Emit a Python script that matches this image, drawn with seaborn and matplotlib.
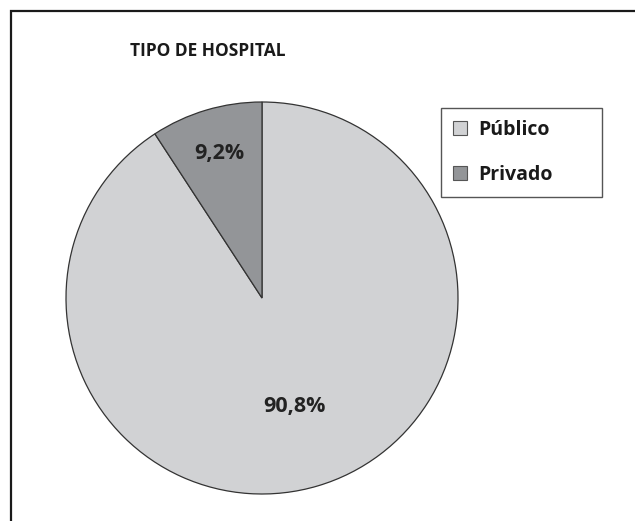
import numpy as np
import matplotlib
matplotlib.use("Agg")
import matplotlib.pyplot as plt
import seaborn as sns
from matplotlib.patches import Rectangle, Patch

# Datos: tipo de hospital (%)
categorias = ["Público", "Privado"]
porcentajes = [90.8, 9.2]
etiquetas = ["90,8%", "9,2%"]
colores = ["#d1d2d4", "#939598"]

sns.set_style("white")
plt.rcParams["font.family"] = ["Open Sans", "DejaVu Sans"]

W, H = 635, 521
fig = plt.figure(figsize=(W / 100, H / 100), dpi=100)

# Marco exterior
fig.patches.append(Rectangle((11 / W, -0.1), 1.2, 1.1 - 11 / H, transform=fig.transFigure,
                             fill=False, edgecolor="#1a1a1a", linewidth=1.6))

cx, cy, r = 262, 298, 196
ax = fig.add_axes([(cx - r) / W, (H - cy - r) / H, 2 * r / W, 2 * r / H])
wedges, _ = ax.pie(porcentajes, colors=colores, startangle=90, counterclock=False,
                   wedgeprops=dict(edgecolor="#333333", linewidth=0.9))
ax.set_xlim(-1, 1)
ax.set_ylim(-1, 1)
ax.set_aspect("equal")

# Etiquetas de porcentaje dentro de cada sector
distancias = [0.575, 0.77]
for w, lab, d in zip(wedges, etiquetas, distancias):
    ang = np.deg2rad((w.theta1 + w.theta2) / 2)
    ax.text(d * np.cos(ang), d * np.sin(ang), lab, ha="center", va="center",
            fontsize=15.5, fontweight="bold", color="#222222")

fig.text(130 / W, 1 - 51 / H, "TIPO DE HOSPITAL", fontsize=12.5, fontweight="bold",
         color="#1a1a1a", va="center", ha="left")

handles = [Patch(facecolor=c, edgecolor="#555555", linewidth=0.8) for c in colores]
leg = fig.legend(handles, categorias, loc="upper left",
                 bbox_to_anchor=(441 / W, 1 - 197 / H, 161 / W, 89 / H), mode="expand",
                 frameon=True, fancybox=False, edgecolor="#555555", framealpha=1,
                 prop=dict(size=14, weight="bold"), handlelength=0.72, handleheight=0.72,
                 labelspacing=1.3, borderpad=0.6, handletextpad=0.6, borderaxespad=0)
leg.get_frame().set_linewidth(1.0)
for t in leg.get_texts():
    t.set_color("#1a1a1a")

fig.savefig("out.png", dpi=100)
